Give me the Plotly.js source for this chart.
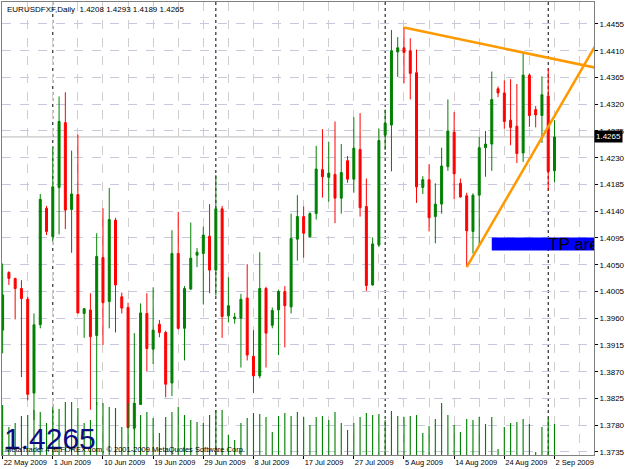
<!DOCTYPE html>
<html><head><meta charset="utf-8">
<script src="https://cdn.plot.ly/plotly-3.0.1.min.js"></script>
<style>html,body{margin:0;padding:0;background:#fff}#chart{width:625px;height:469px}</style>
</head><body><div id="chart"></div>
<script>
const symbol = 'EURUSDFXF,Daily';
const firstDate = '2009-05-22';
const copyright = 'MetaTrader 4 at FOREX.com, \u00a9 2001-2009 MetaQuotes Software Corp.';

const openP = [1.3940,1.4037,1.4027,1.4010,1.3992,1.3834,1.3949,1.4145,1.4097,1.4180,
1.4289,1.4143,1.4168,1.3968,1.3974,1.3931,1.4062,1.3988,1.4125,1.3996,
1.3978,1.3775,1.3815,1.3968,1.3908,1.3950,1.3936,1.3851,1.4069,1.3943,
1.4009,1.4066,1.4069,1.4098,1.4041,1.4144,1.3964,1.3959,1.3960,1.3994,
1.3896,1.3863,1.4010,1.3948,1.3974,1.4005,1.3979,1.4093,1.4131,1.4097,
1.4136,1.4210,1.4197,1.4202,1.4162,1.4225,1.4194,1.4244,1.4148,1.4016,
1.4083,1.4268,1.4285,1.4408,1.4415,1.4410,1.4373,1.4180,1.4193,1.4131,
1.4152,1.4215,1.4273,1.4187,1.4166,1.4106,1.4167,1.4247,1.4253,1.4346,
1.4339,1.4293,1.4283,1.4238,1.4369,1.4311,1.4301,1.4334,1.4208];
const highP = [1.4052,1.4039,1.4028,1.4024,1.3996,1.3968,1.4169,1.4149,1.4249,1.4333,
1.4340,1.4242,1.4269,1.3977,1.4002,1.4103,1.4145,1.4179,1.4129,1.4003,
1.3986,1.3935,1.3985,1.4002,1.4012,1.3957,1.3939,1.4108,1.4139,1.4014,
1.4121,1.4078,1.4114,1.4152,1.4201,1.4149,1.4029,1.3969,1.4001,1.4051,
1.3940,1.4071,1.4013,1.3978,1.4008,1.4014,1.4136,1.4167,1.4148,1.4138,
1.4250,1.4278,1.4257,1.4291,1.4253,1.4233,1.4298,1.4305,1.4195,1.4096,
1.4279,1.4311,1.4445,1.4433,1.4449,1.4431,1.4412,1.4199,1.4219,1.4187,
1.4247,1.4328,1.4307,1.4195,1.4171,1.4170,1.4265,1.4275,1.4375,1.4350,
1.4360,1.4362,1.4354,1.4407,1.4372,1.4317,1.4367,1.4380,1.4293];
const lowP = [1.3901,1.4016,1.3958,1.3861,1.3822,1.3789,1.3943,1.4100,1.4089,1.4101,
1.4110,1.4070,1.3968,1.3927,1.3806,1.3814,1.3915,1.3943,1.3936,1.3968,
1.3775,1.3772,1.3814,1.3871,1.3883,1.3928,1.3827,1.3829,1.3941,1.3889,
1.4008,1.4046,1.3983,1.4002,1.3998,1.3927,1.3953,1.3951,1.3877,1.3889,
1.3834,1.3859,1.3877,1.3943,1.3898,1.3911,1.3968,1.4057,1.4062,1.4096,
1.4126,1.4163,1.4156,1.4120,1.4136,1.4188,1.4171,1.4131,1.4006,1.4015,
1.4080,1.4243,1.4207,1.4366,1.4355,1.4328,1.4154,1.4169,1.4106,1.4086,
1.4136,1.4208,1.4160,1.4163,1.4046,1.4069,1.4080,1.4198,1.4208,1.4332,
1.4279,1.4251,1.4221,1.4223,1.4282,1.4281,1.4255,1.4175,1.4189];
const closeP = [1.3999,1.4027,1.4010,1.3993,1.3832,1.3949,1.4160,1.4106,1.4181,1.4291,
1.4142,1.4169,1.3969,1.3976,1.3929,1.4064,1.3986,1.4126,1.4016,1.3977,
1.3776,1.3817,1.3969,1.3909,1.3940,1.3936,1.3849,1.4069,1.3943,1.4010,
1.4061,1.4071,1.4100,1.4041,1.4144,1.3963,1.3981,1.3962,1.3992,1.3898,
1.3863,1.4010,1.3935,1.3973,1.4005,1.3981,1.4094,1.4131,1.4103,1.4136,
1.4211,1.4198,1.4204,1.4162,1.4205,1.4194,1.4246,1.4146,1.4015,1.4085,
1.4259,1.4288,1.4410,1.4415,1.4407,1.4372,1.4181,1.4193,1.4129,1.4152,
1.4216,1.4275,1.4203,1.4164,1.4107,1.4167,1.4247,1.4253,1.4328,1.4339,
1.4291,1.4281,1.4237,1.4369,1.4301,1.4302,1.4336,1.4207,1.4265];
const volume = [5000,2800,3200,3900,4000,4500,4300,3200,4800,4600,
5300,5300,4700,3200,3500,5300,5200,4800,4700,2800,
5200,5200,4000,4300,3700,2200,3800,4300,4800,4000,
3500,3300,3200,4000,4500,4500,2000,1500,3200,3700,
4200,4100,3800,2300,3900,4200,3900,4300,3800,3000,
3800,3900,3500,4300,3200,2500,3200,3800,4200,4000,
4100,3500,4400,3900,3800,3900,4000,2200,2900,3600,
5200,4000,3000,2300,3600,3500,3800,3100,3800,600,
2800,3200,3300,3600,3100,300,2800,3700,3100];

const tickLabels = ['22 May 2009','1 Jun 2009','10 Jun 2009','19 Jun 2009','29 Jun 2009','8 Jul 2009',
  '17 Jul 2009','27 Jul 2009','5 Aug 2009','14 Aug 2009','24 Aug 2009','2 Sep 2009'];
const priceTicks = [1.4455,1.4410,1.4365,1.4320,1.4275,1.4230,1.4185,1.4140,1.4095,1.4050,
  1.4005,1.3960,1.3915,1.3870,1.3825,1.3780,1.3735];

// drawn objects (anchor bar, price)
const upperTrendBars = [64, 83], upperTrendPrices = [1.4449, 1.4407];
const lowerTrendBars = [74, 86], lowerTrendPrices = [1.4046, 1.4264];
const tpStartBar = 78, tpTop = 1.4096, tpBottom = 1.4074, tpText = 'TP area', tpTextBar = 87;

// trading calendar (Sunday sessions included, Saturdays skipped)
const n = closeP.length;
const monthNames = ['Jan','Feb','Mar','Apr','May','Jun','Jul','Aug','Sep','Oct','Nov','Dec'];
const dates = [];
let d = new Date(firstDate + 'T00:00:00Z');
while (dates.length < n) { if (d.getUTCDay() !== 6) dates.push(new Date(d)); d.setUTCDate(d.getUTCDate() + 1); }
const fmt = t => t.getUTCDate() + ' ' + monthNames[t.getUTCMonth()] + ' ' + t.getUTCFullYear();
const idx = dates.map((_, i) => i);
const dateStr = dates.map(fmt);
const tickVals = tickLabels.map(l => dateStr.indexOf(l));
const monthStarts = idx.filter(i => i > 0 && dates[i].getUTCMonth() !== dates[i - 1].getUTCMonth());

const xr = [-0.1, 94.3];
const yr = [1.37299, 1.44920];
function ray(bx, py) {
  const s = (py[1] - py[0]) / (bx[1] - bx[0]);
  return {x: [bx[0], xr[1] + 2], y: [py[0], py[0] + s * (xr[1] + 2 - bx[0])]};
}
const up = ray(upperTrendBars, upperTrendPrices);
const lo = ray(lowerTrendBars, lowerTrendPrices);
const last = n - 1;
const f4 = v => v.toFixed(4);
const FONT = 'Liberation Sans, Arial, sans-serif';

const traces = [
  {type: 'bar', x: idx, y: volume, yaxis: 'y2', width: 0.18, marker: {color: '#008000', line: {width: 0}}, hoverinfo: 'skip'},
  {type: 'candlestick', x: idx, open: openP, high: highP, low: lowP, close: closeP,
   increasing: {line: {color: '#008000', width: 1}, fillcolor: '#008000'},
   decreasing: {line: {color: '#ff0000', width: 1}, fillcolor: '#ff0000'},
   whiskerwidth: 0, hoverinfo: 'skip'},
  {type: 'scatter', mode: 'lines', x: up.x, y: up.y, line: {color: '#ff9900', width: 2.5}, hoverinfo: 'skip'},
  {type: 'scatter', mode: 'lines', x: lo.x, y: lo.y, line: {color: '#ff9900', width: 2.5}, hoverinfo: 'skip'},
  {type: 'scatter', mode: 'text', x: [tpTextBar], y: [tpTop], text: [tpText], textposition: 'bottom right',
   textfont: {family: FONT, size: 17, color: '#000'}, cliponaxis: true, hoverinfo: 'skip'}
];

const shapes = [
  {type: 'rect', xref: 'x', yref: 'y', x0: tpStartBar, x1: xr[1] + 5, y0: tpBottom, y1: tpTop,
   fillcolor: '#0000ff', line: {width: 0}, layer: 'between'},
  {type: 'line', xref: 'paper', yref: 'y', x0: 0, x1: 1, y0: closeP[last], y1: closeP[last],
   line: {color: '#b8b8b8', width: 1}, layer: 'between'}
].concat(monthStarts.map(m => ({type: 'line', xref: 'x', yref: 'paper', x0: m, x1: m, y0: 0, y1: 1,
   line: {color: '#000', width: 1, dash: 'dot'}, layer: 'between'})));

const annotations = [
  {xref: 'paper', yref: 'paper', x: 0, y: 1, xanchor: 'left', yanchor: 'top', xshift: 3, yshift: -1, showarrow: false,
   text: symbol + '  ' + [openP[last], highP[last], lowP[last], closeP[last]].map(f4).join(' '),
   font: {family: FONT, size: 8, color: '#000'}},
  {xref: 'paper', yref: 'paper', x: 0, y: 0, xanchor: 'left', yanchor: 'bottom', xshift: 0, yshift: -2, showarrow: false,
   text: f4(closeP[last]), font: {family: FONT, size: 30, color: '#0c0c80'}},
  {xref: 'paper', yref: 'paper', x: 0, y: 0, xanchor: 'left', yanchor: 'bottom', xshift: 1, yshift: -1, showarrow: false,
   text: copyright, font: {family: FONT, size: 7.5, color: '#000'}},
  {xref: 'paper', yref: 'y', x: 1, y: closeP[last], xanchor: 'left', yanchor: 'middle', xshift: 0, showarrow: false,
   text: f4(closeP[last]), bgcolor: '#000', borderpad: 1, font: {family: FONT, size: 8, color: '#fff'}}
];

const layout = {
  width: 625, height: 469, margin: {l: 2, r: 31, t: 2, b: 14, pad: 0},
  paper_bgcolor: '#fff', plot_bgcolor: '#fff', showlegend: false, boxgap: 0.55,
  font: {family: FONT, size: 8, color: '#000'},
  xaxis: {range: xr, tickmode: 'array', tickvals: tickVals, ticktext: tickLabels, ticklabelposition: 'outside right',
    tickangle: 0, automargin: false, ticklabeloverflow: 'allow',
    ticks: 'outside', ticklen: 3, tickcolor: '#000', tickfont: {size: 7.5},
    showgrid: true, gridcolor: '#d2cccc', griddash: 'dash', gridwidth: 1,
    minor: {tickmode: 'linear', tick0: 0, dtick: 4, showgrid: true, gridcolor: '#d2cccc', griddash: 'dash', ticks: ''},
    showline: true, linecolor: '#808080', linewidth: 1, mirror: true, zeroline: false,
    rangeslider: {visible: false}, fixedrange: true},
  yaxis: {range: yr, side: 'right', tickmode: 'array', tickvals: priceTicks, ticktext: priceTicks.map(f4),
    ticks: 'outside', ticklen: 3, tickcolor: '#000', tickfont: {size: 8}, automargin: false,
    showgrid: true, gridcolor: '#c8c8dc', griddash: 'dash', gridwidth: 1,
    showline: true, linecolor: '#808080', linewidth: 1, mirror: true, zeroline: false, fixedrange: true},
  yaxis2: {overlaying: 'y', range: [0, 45300], visible: false, fixedrange: true},
  shapes: shapes, annotations: annotations
};

Plotly.newPlot('chart', traces, layout, {staticPlot: true, displayModeBar: false});
</script></body></html>
